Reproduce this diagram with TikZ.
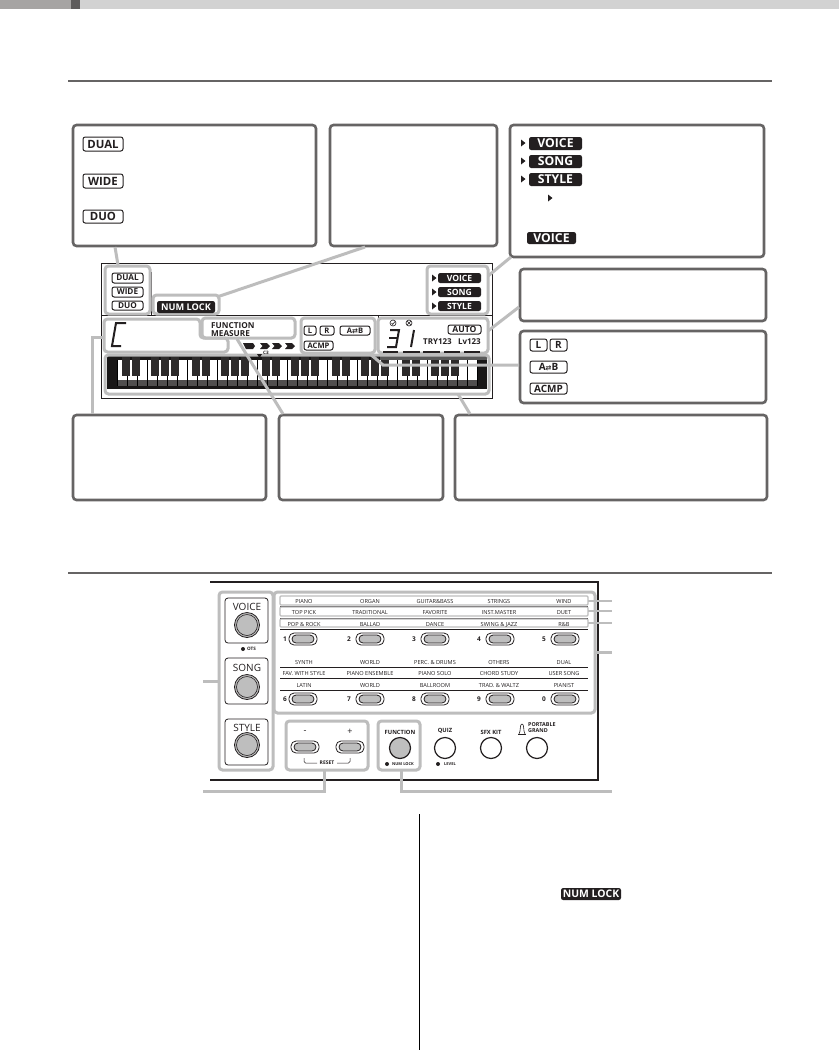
\documentclass[tikz,border=0pt]{standalone}
\usepackage{fontspec}
\setmainfont{Open Sans}
\newfontfamily\djv{DejaVu Sans}
\definecolor{hl}{HTML}{BDBDBD}
\definecolor{cb}{HTML}{666464}
\definecolor{ink}{HTML}{231F20}
\definecolor{knob}{HTML}{BEBEBE}
\tikzset{
  x=1pt,y=-1pt,
  any/.style={inner sep=0pt,outer sep=0pt,rectangle},
  callout/.style={any,draw=cb,line width=2.6pt,rounded corners=3.5pt,fill=white},
  hlbox/.style={any,draw=hl,line width=3pt,rounded corners=3.5pt},
  rowbox/.style={any,draw=hl,line width=1.1pt,rounded corners=1pt},
  conn/.style={draw=hl,line width=3pt},
  thinconn/.style={draw=hl,line width=1.1pt},
  lcdbig/.style={any,fill=ink,text=white,rounded corners=2.2pt,font=\fontsize{12.2}{12}\selectfont\bfseries},
  lcdbox/.style={any,draw=ink,line width=1pt,rounded corners=2.2pt,text=ink,font=\fontsize{11.4}{11}\selectfont\bfseries},
  panelbtn/.style={any,draw=ink,line width=.8pt,rounded corners=3pt},
  paneltxt/.style={inner sep=0pt,text=ink,text height=4pt,text depth=0pt,font=\fontsize{5.6}{6}\selectfont},
  keylab/.style={inner sep=0pt,text=ink,font=\fontsize{10}{10}\selectfont},
  smalllab/.style={inner sep=0pt,text=ink,font=\fontsize{5.8}{6}\selectfont\bfseries},
  tinylab/.style={inner sep=0pt,text=ink,font=\fontsize{4.6}{5}\selectfont\bfseries},
  knobgray/.style={circle,inner sep=0pt,outer sep=0pt,draw=ink,line width=.8pt,fill=knob},
  knobwhite/.style={circle,inner sep=0pt,outer sep=0pt,draw=ink,line width=1.2pt,fill=white},
  tri/.style={fill=ink},
}
% \bx[text]{style}{name}{x1}{y1}{x2}{y2}
\newcommand{\bx}[7][]{%
  \pgfmathsetmacro\bxcx{(#4+#6)/2}\pgfmathsetmacro\bxcy{(#5+#7)/2}%
  \pgfmathsetmacro\bxw{#6-#4}\pgfmathsetmacro\bxh{#7-#5}%
  \node[#2,minimum width=\bxw pt,minimum height=\bxh pt] (#3) at (\bxcx,\bxcy) {#1};}
\newcommand{\ttri}[2]{\fill[tri] (#1,#2-3.5) -- (#1+4.5,#2) -- (#1,#2+3.5) -- cycle;}
\newcommand{\AB}{A{\djv\bfseries\fontsize{7}{7}\selectfont ⇄}B}
\newcommand{\pill}[3]{% name x y
  \bx{panelbtn,fill=white,rounded corners=5pt}{#1o}{\the\numexpr#2-14\relax}{\the\numexpr#3-6\relax}{\the\numexpr#2+14\relax}{\the\numexpr#3+6\relax}
  \bx{panelbtn,fill=knob,rounded corners=4pt}{#1}{\the\numexpr#2-11\relax}{\the\numexpr#3-4\relax}{\the\numexpr#2+11\relax}{\the\numexpr#3+4\relax}}
\begin{document}
\begin{tikzpicture}
\useasboundingbox (0,0) rectangle (839,1050);
% header
\fill[fill=white] (0,0) rectangle (839,1050);
\fill[color={rgb,255:red,166;green,164;blue,163}] (0,0) rectangle (71,9);
\fill[color={rgb,255:red,94;green,92;blue,92}] (71,0) rectangle (80,9);
\fill[color={rgb,255:red,210;green,210;blue,210}] (80,0) rectangle (839,9);
\fill[cb] (68,80) rectangle (772,82);
\fill[cb] (68,572) rectangle (772,574);

% ===== display frame
\bx{any,draw=ink,line width=.8pt}{frame}{101}{263}{492}{398}
\coordinate (fa) at (101,315); \coordinate (fb) at (492,315);
\draw[ink,line width=.8pt] (fa) -- (fb);
\coordinate (va) at (151,272); \coordinate (vb) at (151,315);
\draw[ink,line width=.8pt] (va) -- (vb);
\coordinate (vc) at (378,315); \coordinate (vd) at (378,352);
\draw[ink,line width=.8pt] (vc) -- (vd);

% keyboard
\fill[color={rgb,255:red,25;green,23;blue,23}] (107,356) rectangle (487,389);
\fill[white] (117,360) rectangle (477,386);
\fill[color={rgb,255:red,80;green,78;blue,78}] (117,380) rectangle (477,386);
\foreach \i in {0,...,36} \draw[black,line width=.6pt] ({117+10*\i},360) -- ({117+10*\i},386);
\foreach \o in {0,...,4} \foreach \d in {9,19,38,48,58}
  \fill[color={rgb,255:red,45;green,43;blue,43}] ({117+70*\o+\d-4},357) rectangle ({117+70*\o+\d+4},376);
\fill[color={rgb,255:red,90;green,90;blue,90}] (380,356) rectangle (487,360);

% connectors behind boxes
\bx{hlbox}{hDual}{105}{266}{150}{314}
\bx{hlbox}{hNum}{153}{295}{219}{314}
\bx{hlbox}{hVoice}{427}{266}{488}{314}
\bx{hlbox}{hDigits}{378}{318}{488}{353}
\bx{hlbox}{hFunc}{202}{318}{295}{338}
\bx{hlbox}{hLR}{301}{318}{375}{353}
\bx{hlbox}{hKeys}{105}{355}{489}{394}
\draw[hl,line width=3pt,rounded corners=3.5pt] (104,319) -- (200,319) -- (200,338) -- (228,338) -- (228,352) -- (104,352) -- cycle;

% callouts
\bx{callout}{b1}{73}{125}{316}{246}
\bx{callout}{b2}{330}{125}{497}{246}
\bx{callout}{b3}{510}{125}{764}{257}
\bx{callout}{b4}{520}{269}{766}{321}
\bx{callout}{b5}{520}{331}{766}{403}
\bx{callout}{b6}{73}{415}{266}{500}
\bx{callout}{b7}{279}{415}{443}{500}
\bx{callout}{b8}{455}{415}{767}{500}

% connectors
\coordinate (c1a) at (115,247); \coordinate (c1b) at (118,265);
\draw[conn] (c1a) -- (c1b);
\coordinate (c2a) at (365,247); \coordinate (c2b) at (217,297);
\draw[conn] (c2a) -- (c2b);
\coordinate (c3a) at (511,257); \coordinate (c3b) at (488,276);
\draw[conn] (c3a) -- (c3b);
\coordinate (c4a) at (519,307); \coordinate (c4b) at (488,331);
\draw[conn] (c4a) -- (c4b);
\coordinate (c5a) at (519,365); \coordinate (c5b) at (383,365); \coordinate (c5c) at (369,353);
\draw[conn] (c5a) -- (c5b) -- (c5c);
\coordinate (c6a) at (104,337); \coordinate (c6b) at (92,337); \coordinate (c6c) at (92,414);
\draw[conn] (c6a) -- (c6b) -- (c6c);
\coordinate (c7a) at (237,339); \coordinate (c7b) at (283,414);
\draw[conn] (c7a) -- (c7b);
\coordinate (c8a) at (458,394); \coordinate (c8b) at (470,414);
\draw[conn] (c8a) -- (c8b);

% display labels
\bx[\fontsize{8.2}{8}\selectfont DUAL]{lcdbox}{dDual}{112}{273}{143}{283}
\bx[\fontsize{8.2}{8}\selectfont WIDE]{lcdbox}{dWide}{112}{287}{143}{297}
\bx[\fontsize{8.2}{8}\selectfont DUO]{lcdbox}{dDuo}{112}{301}{143}{310}
\bx[\fontsize{9.2}{9}\selectfont NUM LOCK]{lcdbig}{dNum}{157}{301}{215}{313}
\bx[\fontsize{8.6}{8}\selectfont VOICE]{lcdbig}{dVoice}{438}{273}{481}{283}
\bx[\fontsize{8.6}{8}\selectfont SONG]{lcdbig}{dSong}{438}{287}{481}{297}
\bx[\fontsize{8.6}{8}\selectfont STYLE]{lcdbig}{dStyle}{438}{301}{481}{311}
\ttri{432}{278}\ttri{432}{292}\ttri{432}{306}
\node[anchor=west,inner sep=0pt,text=ink,font=\fontsize{8.2}{8}\selectfont\bfseries] (dFunc) at (211,326) {FUNCTION};
\node[anchor=west,inner sep=0pt,text=ink,font=\fontsize{8.2}{8}\selectfont\bfseries] (dMeas) at (211,334) {MEASURE};
\bx[\fontsize{7.6}{7}\selectfont L]{lcdbox}{dL}{304}{326}{316}{335}
\bx[\fontsize{7.6}{7}\selectfont R]{lcdbox}{dR}{320}{326}{334}{335}
\bx[\fontsize{7.6}{7}\selectfont \AB]{lcdbox}{dAB}{340}{326}{370}{335}
\bx[\fontsize{7.6}{7}\selectfont ACMP]{lcdbox}{dACMP}{304}{341}{333}{350}
\bx[\fontsize{8.6}{8}\selectfont AUTO]{lcdbox}{dAuto}{448}{325}{481}{334}
\node[anchor=east,inner sep=0pt,text=ink,font=\fontsize{8}{8}\selectfont\bfseries] (dLv) at (481,342) {Lv123};
\node[anchor=east,inner sep=0pt,text=ink,font=\fontsize{8}{8}\selectfont\bfseries] (dTry) at (452,342) {TRY123};
% big C
\draw[ink,line width=2pt] (126,323) -- (116,323) -- (112,346) -- (121,346);
% digits
\draw[ink,line width=2pt] (390,330) -- (399,330) -- (396,347) -- (387,347);
\draw[ink,line width=2pt] (389,338) -- (397,338);
\draw[ink,line width=2pt] (414,330) -- (411,347);
% status symbols
\draw[ink,line width=.6pt] (393,323) circle (3);
\draw[ink,line width=.6pt] (391.5,323) -- (392.7,324.4) -- (395,321.6);
\draw[ink,line width=.6pt] (409,323) circle (3);
\draw[ink,line width=.6pt] (407,321) -- (411,325) (411,321) -- (407,325);
\foreach \a/\b in {383/398,403/420,423/440,444/460,464/480}
  \draw[ink,line width=1.5pt] (\a,352) -- (\b,352);
% chevrons
\fill[ink] (243,343) -- (253,343) -- (255,346) -- (253,349) -- (246,349) -- cycle;
\foreach \x in {260,272,285}
  \fill[ink] (\x,343) -- (\x+7,343) -- (\x+10,346) -- (\x+7,349) -- (\x,349) -- (\x+2.5,346) -- cycle;
\fill[ink] (257,354) -- (262,354) -- (259.5,358) -- cycle;
\node[tinylab,anchor=west] (dC3) at (263,353) {C3};

% callout content
\bx[DUAL]{lcdbox}{k1}{83}{137}{123}{151}
\bx[WIDE]{lcdbox}{k2}{83}{174}{123}{188}
\bx[DUO]{lcdbox}{k3}{83}{210}{123}{223}
\bx[VOICE]{lcdbig}{k4}{529}{137}{582}{150}
\bx[SONG]{lcdbig}{k5}{529}{155}{582}{168}
\bx[STYLE]{lcdbig}{k6}{529}{173}{582}{186}
\ttri{521}{143}\ttri{521}{161}\ttri{521}{179}\ttri{548}{198}
\bx[VOICE]{lcdbig}{k7}{527}{232}{576}{244}
\bx[\fontsize{10}{10}\selectfont L]{lcdbox}{k8}{530}{339}{547}{351}
\bx[\fontsize{10}{10}\selectfont R]{lcdbox}{k9}{550}{339}{567}{351}
\bx[\fontsize{10}{10}\selectfont \AB]{lcdbox}{k10}{530}{361}{567}{373}
\bx[\fontsize{10}{10}\selectfont ACMP]{lcdbox}{k11}{530}{383}{567}{394}

% ===== panel
\coordinate (pa) at (210,582); \coordinate (pb) at (598,582);
\coordinate (pc) at (598,780); \coordinate (pd) at (210,780);
\draw[ink,line width=1.1pt] (pa) -- (pb) -- (pc) -- (pd);
\foreach \y in {606,618,629,667,678,690} \draw[ink,line width=.8pt] (280,\y) -- (588,\y);

\bx{hlbox}{gLeft}{219}{592}{273}{770}
\bx{hlbox}{gNum}{274}{592}{595}{713}
\bx{hlbox}{gReset}{286}{721}{368}{770}
\bx{hlbox}{gFunc}{378}{721}{420}{770}
\bx{rowbox,fill=white}{r1}{280}{596}{588}{605}
\bx{rowbox,fill=white}{r2}{280}{607}{588}{616}
\bx{rowbox,fill=white}{r3}{280}{619}{588}{627}

% panel connectors
\coordinate (xl) at (203,681); \draw[conn] (gLeft.west |- xl) -- (xl);
\coordinate (x1) at (612,601); \draw[thinconn] (r1.east |- x1) -- (x1);
\coordinate (x2) at (612,611); \draw[thinconn] (r2.east |- x2) -- (x2);
\coordinate (x3) at (612,623); \draw[thinconn] (r3.east |- x3) -- (x3);
\coordinate (x4) at (612,652); \draw[conn] (gNum.east |- x4) -- (x4);
\coordinate (y1a) at (324,770); \coordinate (y1b) at (324,791); \coordinate (y1c) at (203,791);
\draw[conn] (y1a) -- (y1b) -- (y1c);
\coordinate (y2a) at (401,770); \coordinate (y2b) at (401,791); \coordinate (y2c) at (612,791);
\draw[conn] (y2a) -- (y2b) -- (y2c);

% big buttons
\bx[]{panelbtn}{vBox}{225}{598}{268}{643}
\bx[]{panelbtn}{sBox}{225}{658}{268}{704}
\bx[]{panelbtn}{tBox}{225}{719}{268}{765}
\node[keylab] (vL) at (247,607) {VOICE};
\node[keylab] (sL) at (247,668) {SONG};
\node[keylab] (tL) at (247,728) {STYLE};
\foreach \n/\y in {vK/625,sK/687,tK/745}{
  \node[knobgray,minimum size=25pt] (\n o) at (247,\y) {};
  \node[knobgray,minimum size=21pt,line width=.6pt] (\n) at (247,\y) {};
}
\fill[ink] (243,649) circle (2);
\node[tinylab,anchor=west] (ots) at (247,649) {OTS};

% numbered buttons
\foreach \k/\x/\lx/\num in {a/303/285/1,b/370/349/2,c/435/414/3,d/500/479/4,e/565/544/5}{
  \pill{t\k}{\x}{639}
  \node[smalllab,font=\fontsize{6.5}{7}\selectfont\bfseries] (tn\k) at (\lx,639) {\num};
}
\foreach \k/\x/\lx/\num in {a/303/285/6,b/370/349/7,c/435/414/8,d/500/479/9,e/565/544/0}{
  \pill{u\k}{\x}{699}
  \node[smalllab,font=\fontsize{6.5}{7}\selectfont\bfseries] (un\k) at (\lx,699) {\num};
}
% row labels
\foreach \k/\x/\a/\b/\c/\d/\e/\f in {
 a/304/PIANO/TOP PICK/POP \& ROCK/SYNTH/FAV. WITH STYLE/LATIN,
 b/370/ORGAN/TRADITIONAL/BALLAD/WORLD/PIANO ENSEMBLE/WORLD,
 c/435/GUITAR\&BASS/FAVORITE/DANCE/PERC. \& DRUMS/PIANO SOLO/BALLROOM,
 d/499/STRINGS/INST.MASTER/SWING \& JAZZ/OTHERS/CHORD STUDY/TRAD. \& WALTZ,
 e/564/WIND/DUET/R\&B/DUAL/USER SONG/PIANIST}{
  \node[paneltxt] (la\k) at (\x,601) {\a};
  \node[paneltxt] (lb\k) at (\x,612) {\b};
  \node[paneltxt] (lc\k) at (\x,624) {\c};
  \node[paneltxt] (ld\k) at (\x,662) {\d};
  \node[paneltxt] (le\k) at (\x,673) {\e};
  \node[paneltxt] (lf\k) at (\x,685) {\f};
}
% reset group
\node[keylab,font=\fontsize{9}{9}\selectfont] (mn) at (305,732) {-};
\node[keylab,font=\fontsize{9}{9}\selectfont] (pl) at (350,732) {+};
\pill{bm}{305}{747}
\pill{bp}{350}{747}
\node[tinylab,font=\fontsize{5}{5}\selectfont\bfseries] (rst) at (327,763) {RESET};
\coordinate (ra) at (304,758); \coordinate (rc) at (317,763);
\coordinate (rd) at (337,763); \coordinate (rf) at (350,758);
\draw[ink,line width=.5pt,rounded corners=1.5pt] (ra) -- (304,763) -- (rc);
\draw[ink,line width=.5pt,rounded corners=1.5pt] (rd) -- (350,763) -- (rf);
% function row
\node[smalllab] (fL) at (400,732) {FUNCTION};
\node[knobgray,minimum size=21pt,line width=1.2pt] (fK) at (400,748) {};
\fill[ink] (387,764) circle (2);
\node[tinylab,anchor=west,font=\fontsize{4}{5}\selectfont\bfseries] (fN) at (392,764) {NUM LOCK};
\node[smalllab] (qL) at (445,731) {QUIZ};
\node[knobwhite,minimum size=21pt] (qK) at (445,748) {};
\fill[ink] (438,764) circle (2);
\node[tinylab,font=\fontsize{4}{5}\selectfont\bfseries] (qN) at (450,764) {LEVEL};
\node[smalllab] (xL) at (491,732) {SFX KIT};
\node[knobwhite,minimum size=21pt] (xK) at (491,748) {};
\node[smalllab,anchor=west,font=\fontsize{5.4}{6}\selectfont\bfseries] (pgA) at (528,725) {PORTABLE};
\node[smalllab,anchor=west,font=\fontsize{5.4}{6}\selectfont\bfseries] (pgB) at (528,731) {GRAND};
\node[knobwhite,minimum size=21pt] (pgK) at (537,748) {};
\draw[ink,line width=.6pt] (518,734) -- (526,734);
\draw[ink,line width=.6pt] (519,734) .. controls (521,731) and (519.5,724) .. (522,724) .. controls (524.5,724) and (523,731) .. (525,734);

% bottom
\coordinate (ba) at (419.5,814); \coordinate (bb) at (419.5,1050);
\draw[black,line width=1pt] (ba) -- (bb);
\bx[\fontsize{10.4}{10}\selectfont NUM LOCK]{lcdbig}{bNum}{561}{888}{621}{900}
\end{tikzpicture}
\end{document}
